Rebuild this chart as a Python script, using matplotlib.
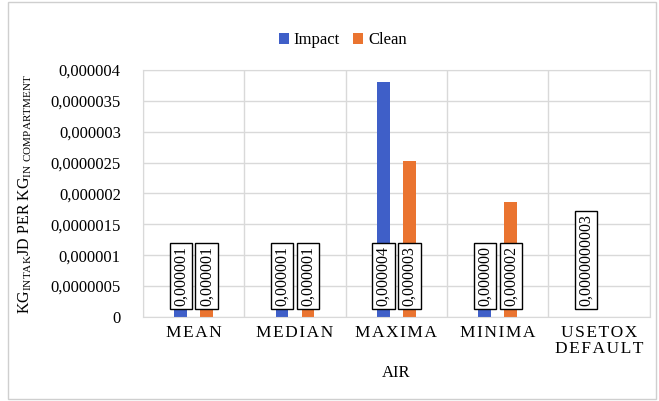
import numpy as np
import matplotlib.pyplot as plt
from matplotlib.patches import Rectangle

categories = ["MEAN", "MEDIAN", "MAXIMA", "MINIMA", "USETOX\nDEFAULT"]
impact = [0.9e-6, 0.85e-6, 3.8e-6, 0.2e-6, 3e-10]
clean = [0.8e-6, 0.75e-6, 2.52e-6, 1.87e-6, np.nan]
label_decimals = [6, 6, 6, 6, 10]
yticks = [0, 0.5e-6, 1e-6, 1.5e-6, 2e-6, 2.5e-6, 3e-6, 3.5e-6, 4e-6]
ytick_labels = ["0", "0,0000005", "0,000001", "0,0000015", "0,000002",
                "0,0000025", "0,000003", "0,0000035", "0,000004"]

plt.rcParams["font.family"] = ["Liberation Serif", "DejaVu Serif"]
plt.rcParams["mathtext.fontset"] = "custom"
plt.rcParams["mathtext.rm"] = "Liberation Serif"

blue = "#3f5fc8"
orange = "#ea7430"
grid_c = "#d9d9d9"

fig = plt.figure(figsize=(6.59, 4.01), dpi=100)
ax = fig.add_axes([0.217, 0.2095, 0.769, 0.616])

x = np.arange(len(categories))
w = 0.127
off = 0.128
ax.bar(x - off, impact, w, color=blue, label="Impact", zorder=2)
ax.bar(x + off, clean, w, color=orange, label="Clean", zorder=2)


def fmt(v, d):
    return f"{v:.{d}f}".replace(".", ",")


def box_label(xpos, v, d):
    ax.annotate(fmt(v, d), (xpos, 0), xytext=(0, 8), textcoords="offset points",
                rotation=90, ha="center", va="bottom", fontsize=11.5, zorder=4,
                bbox=dict(boxstyle="square,pad=0.2", fc="white", ec="black", lw=1.0))


for i in range(len(categories)):
    box_label(x[i] - off, impact[i], label_decimals[i])
    if not np.isnan(clean[i]):
        box_label(x[i] + off, clean[i], label_decimals[i])


def spaced(name):
    return "\n".join("\u200a".join(part) for part in name.split("\n"))


ax.set_xlim(-0.5, len(categories) - 0.5)
ax.set_ylim(0, 4e-6)
ax.set_yticks(yticks)
ax.set_yticklabels(ytick_labels, fontsize=12)
ax.set_xticks(x)
ax.set_xticklabels([spaced(c) for c in categories], fontsize=12.5, linespacing=0.95)
ax.tick_params(axis="x", length=0, pad=6)
ax.tick_params(axis="y", length=0, pad=16)
ax.set_xticks(np.arange(-0.5, len(categories), 1), minor=True)
ax.tick_params(which="minor", length=0)
ax.grid(True, axis="y", color=grid_c, lw=1, zorder=0)
ax.grid(True, axis="x", which="minor", color=grid_c, lw=1, zorder=0)
for s in ax.spines.values():
    s.set_color(grid_c)

ax.set_xlabel("AIR", fontsize=12, labelpad=6)
ax.set_ylabel(r"KG$_{\mathrm{INTAK}}$JD PER KG$_{\mathrm{IN\ COMPARTMENT}}$",
              fontsize=11.5, labelpad=12)

fig.legend(loc="center", bbox_to_anchor=(0.52, 0.9), ncol=2, frameon=False,
           fontsize=12, handlelength=0.6, handleheight=0.6, columnspacing=0.8,
           handletextpad=0.3)

fig.patches.append(Rectangle((0.012, 0.005), 0.983, 0.99, transform=fig.transFigure,
                             fill=False, ec="#cfcfcf", lw=1))

fig.savefig("out.png", dpi=100)
